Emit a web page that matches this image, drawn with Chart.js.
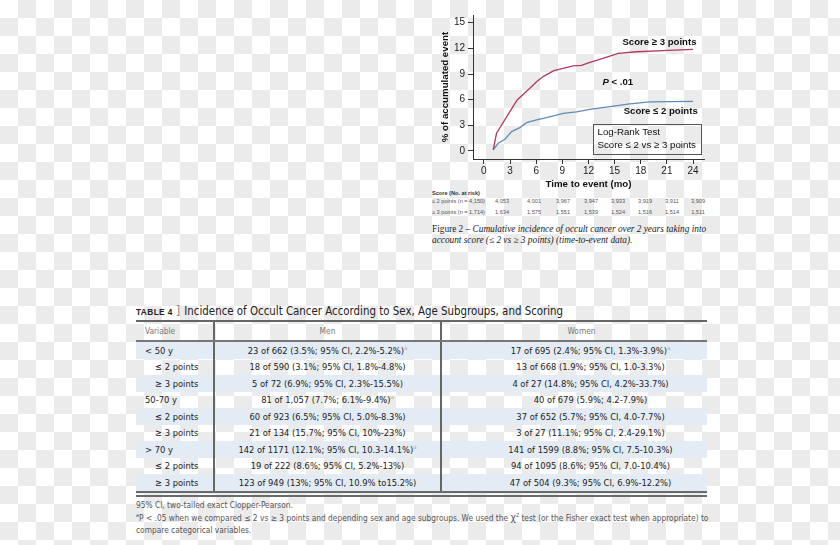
<!DOCTYPE html>
<html>
<head>
<meta charset="utf-8">
<script src="https://cdn.jsdelivr.net/npm/chart.js@4.4.0/dist/chart.umd.min.js"></script>
<style>
html, body { margin: 0; padding: 0; }
body {
  width: 840px; height: 545px; overflow: hidden; position: relative;
  background-color: #fff;
  background-image: conic-gradient(#ebebeb 25%, transparent 0 50%, #ebebeb 0 75%, transparent 0);
  background-size: 36px 36px;
  font-family: 'Liberation Sans', Arial, sans-serif;
}
#chartBox { position: absolute; left: 420px; top: 0; width: 300px; height: 190px; }
.risk { position: absolute; font-size: 5.6px; color: #555; white-space: nowrap; line-height: 7px; }
.risk.head { font-weight: bold; color: #333; }
#caption { position: absolute; left: 432px; top: 224px; font-family: 'Liberation Serif', serif;
  font-size: 9.3px; line-height: 11.3px; color: #222; white-space: nowrap; }
#caption i { font-style: italic; }
#tTitle { position: absolute; left: 136px; top: 303px; white-space: nowrap; color: #222;
  font-family: 'DejaVu Sans Condensed', 'DejaVu Sans', sans-serif; font-size: 11.4px; line-height: 16px; }
#tTitle b { font-family: 'Liberation Sans', sans-serif; font-size: 8.3px; letter-spacing: 0.4px; }
#tTitle .br { color: #888; font-size: 13px; margin: 0 4px 0 3px; }
#tbl { position: absolute; left: 136px; top: 320px; width: 571px; border-collapse: collapse; table-layout: fixed;
  font-family: 'DejaVu Sans Condensed', 'DejaVu Sans', sans-serif; font-size: 9.3px; color: #222; }
#tbl th { height: 18px; padding: 0; font-weight: normal; color: #777; font-size: 8.3px;
  border-top: 2px solid #666; border-bottom: 2px solid #777; }
#tbl th:first-child { text-align: left; padding-left: 9px; }
#tbl th:last-child { padding-left: 14px; }
#tbl td { height: 16.5px; padding: 0; white-space: nowrap; }
#tbl td:first-child { padding-left: 9px; }
#tbl td.sub { padding-left: 19px; }
#tbl td.men { text-align: center; }
#tbl td.women { text-align: center; padding-left: 32px; }
#tbl th + th, #tbl td + td { border-left: 2px solid #666; }
#tbl tr.alt td { background: #e3ecf4; }
#tbl tr.last td { border-bottom: 6px double #6a6a6a; }
#tbl sup { color: #9ab; font-size: 6px; line-height: 0; }
#foot { position: absolute; left: 136px; top: 499px; font-family: 'DejaVu Sans Condensed', 'DejaVu Sans', sans-serif;
  font-size: 8.3px; line-height: 12.5px; color: #555; white-space: nowrap; }
#foot sup { font-size: 5.5px; line-height: 0; }
#foot .chi { font-size: 10.5px; line-height: 0; }
</style>
</head>
<body>
<div id="chartBox"><canvas id="kmChart"></canvas></div>
<div id="risk"></div>
<div id="caption">Figure 2 – <i>Cumulative incidence of occult cancer over 2 years taking into<br>account score (≤ 2 vs ≥ 3 points) (time-to-event data).</i></div>
<div id="tTitle"><b>TABLE 4</b><span class="br">]</span>Incidence of Occult Cancer According to Sex, Age Subgroups, and Scoring</div>
<table id="tbl">
  <colgroup><col style="width:78px"><col style="width:227px"><col style="width:266px"></colgroup>
  <thead><tr><th>Variable</th><th>Men</th><th>Women</th></tr></thead>
  <tbody id="tableBody"></tbody>
</table>
<div id="foot">95% CI, two-tailed exact Clopper-Pearson.<br><sup>a</sup>P &lt; .05 when we compared ≤ 2 vs ≥ 3 points and depending sex and age subgroups. We used the <span class="chi">χ</span><sup>2</sup> test (or the Fisher exact test when appropriate) to<br>compare categorical variables.</div>

<script>
"use strict";

// cumulative incidence
const highX = [1.07, 1.45, 2.03, 2.98, 3.82, 5.27, 6.04, 6.8, 8.03, 9.1, 10.24, 11.2, 12.16, 13.3, 14.45, 15.4, 17.5, 20.56, 24];
const highY = [0.12, 2.07, 3.04, 4.6, 5.96, 7.33, 8.1, 8.7, 9.39, 9.67, 9.94, 10.02, 10.37, 10.72, 11.1, 11.42, 11.6, 11.73, 11.89];
const lowX = [1.07, 1.64, 2.41, 3.18, 4.13, 4.9, 6.04, 7.19, 9.1, 10.63, 12.16, 14.45, 16.74, 19.04, 24];
const lowY = [0.12, 0.9, 1.37, 2.26, 2.73, 3.31, 3.63, 3.9, 4.4, 4.56, 4.87, 5.18, 5.5, 5.73, 5.81];

const xTicks = [0, 3, 6, 9, 12, 15, 18, 21, 24];
const yTicks = [0, 3, 6, 9, 12, 15];

const riskRows = ['≤ 2 points (n = 4,150)', '≥ 3 points (n = 1,714)'];
const riskLow = ['4,053', '4,001', '3,967', '3,947', '3,933', '3,919', '3,911', '3,909'];
const riskHigh = ['1,634', '1,575', '1,551', '1,539', '1,524', '1,516', '1,514', '1,511'];

const variables = ['< 50 y', '≤ 2 points', '≥ 3 points', '50-70 y', '≤ 2 points', '≥ 3 points', '> 70 y', '≤ 2 points', '≥ 3 points'];
const menText = [
  '23 of 662 (3.5%; 95% CI, 2.2%-5.2%)', '18 of 590 (3.1%; 95% CI, 1.8%-4.8%)', '5 of 72 (6.9%; 95% CI, 2.3%-15.5%)',
  '81 of 1,057 (7.7%; 6.1%-9.4%)', '60 of 923 (6.5%; 95% CI, 5.0%-8.3%)', '21 of 134 (15.7%; 95% CI, 10%-23%)',
  '142 of 1171 (12.1%; 95% CI, 10.3-14.1%)', '19 of 222 (8.6%; 95% CI, 5.2%-13%)', '123 of 949 (13%; 95% CI, 10.9% to15.2%)'
];
const womenText = [
  '17 of 695 (2.4%; 95% CI, 1.3%-3.9%)', '13 of 668 (1.9%; 95% CI, 1.0-3.3%)', '4 of 27 (14.8%; 95% CI, 4.2%-33.7%)',
  '40 of 679 (5.9%; 4.2-7.9%)', '37 of 652 (5.7%; 95% CI, 4.0-7.7%)', '3 of 27 (11.1%; 95% CI, 2.4-29.1%)',
  '141 of 1599 (8.8%; 95% CI, 7.5-10.3%)', '94 of 1095 (8.6%; 95% CI, 7.0-10.4%)', '47 of 504 (9.3%; 95% CI, 6.9%-12.2%)'
];
const menSig = [true, false, false, true, false, false, true, false, false];
const womenSig = [true, false, false, false, false, false, false, false, false];

// risk table under the plot
const riskCols = [502, 534, 563, 591, 618, 645, 672, 698];
const riskBox = document.getElementById('risk');
const addRisk = (html, cls, left, top) => {
  const el = document.createElement('div');
  el.className = cls;
  el.style.left = left + 'px';
  el.style.top = top + 'px';
  el.innerHTML = html;
  riskBox.append(el);
  return el;
};
addRisk('Score (No. at risk)', 'risk head', 432, 189.5);
[riskLow, riskHigh].forEach((vals, r) => {
  const top = 197.8 + r * 11.4;
  addRisk(riskRows[r], 'risk', 432, top);
  vals.forEach((v, i) => {
    const el = addRisk(v, 'risk', riskCols[i], top);
    el.style.transform = 'translateX(-50%)';
  });
});

// table rows
const tableBody = document.getElementById('tableBody');
variables.forEach((v, i) => {
  const tr = document.createElement('tr');
  if (i % 2 === 0) tr.className = 'alt';
  if (i === variables.length - 1) tr.className += ' last';
  const td1 = document.createElement('td');
  td1.innerText = v;
  if (v.indexOf('points') >= 0) td1.className = 'sub';
  const td2 = document.createElement('td');
  td2.className = 'men';
  td2.innerHTML = menText[i] + (menSig[i] ? '<sup>a</sup>' : '');
  const td3 = document.createElement('td');
  td3.className = 'women';
  td3.innerHTML = womenText[i] + (womenSig[i] ? '<sup>a</sup>' : '');
  tr.append(td1, td2, td3);
  tableBody.append(tr);
});

// text placed in data units
const notes = [
  { text: 'Score ≥ 3 points', x: 24.4, y: 12.67, align: 'right', font: 'bold 9.6px "Liberation Sans"' },
  { text: 'Score ≤ 2 points', x: 24.54, y: 4.6, align: 'right', font: 'bold 9.6px "Liberation Sans"' },
  { text: 'Log-Rank Test', x: 13.04, y: 2.14, align: 'left', font: '9.7px "Liberation Sans"' },
  { text: 'Score ≤ 2 vs ≥ 3 points', x: 13.04, y: 0.62, align: 'left', font: '9.7px "Liberation Sans"' }
];
const noteBox = { x0: 12.53, y0: 3.16, x1: 24.96, y1: -0.35 };
const pNote = { x: 13.61, y: 8.0 };

const notesPlugin = {
  id: 'notes',
  afterDatasetsDraw(chart) {
    const { ctx, scales: { x, y } } = chart;
    ctx.save();
    ctx.fillStyle = '#111';
    ctx.textBaseline = 'middle';
    notes.forEach(n => {
      ctx.font = n.font;
      ctx.textAlign = n.align;
      ctx.fillText(n.text, x.getPixelForValue(n.x), y.getPixelForValue(n.y));
    });
    // P < .01 with italic P
    const px = x.getPixelForValue(pNote.x);
    const py = y.getPixelForValue(pNote.y);
    ctx.textAlign = 'left';
    ctx.font = 'italic bold 9.6px "Liberation Sans"';
    ctx.fillText('P', px, py);
    const w = ctx.measureText('P').width;
    ctx.font = 'bold 9.6px "Liberation Sans"';
    ctx.fillText(' < .01', px + w, py);
    // log-rank box
    const bx0 = Math.round(x.getPixelForValue(noteBox.x0)) + 0.5;
    const by0 = Math.round(y.getPixelForValue(noteBox.y0)) + 0.5;
    const bx1 = Math.round(x.getPixelForValue(noteBox.x1)) + 0.5;
    const by1 = Math.round(y.getPixelForValue(noteBox.y1)) + 0.5;
    ctx.strokeStyle = '#555';
    ctx.lineWidth = 1;
    ctx.strokeRect(bx0, by0, bx1 - bx0, by1 - by0);
    ctx.restore();
  }
};

const toPoints = (xs, ys) => xs.map((v, i) => ({ x: v, y: ys[i] }));

const ctx = document.getElementById('kmChart').getContext('2d');
const kmChart = new Chart(ctx, {
  type: 'line',
  data: {
    datasets: [
      { label: 'Score ≥ 3 points', data: toPoints(highX, highY), borderColor: '#b23a5c', borderWidth: 1.3, pointRadius: 0, tension: 0 },
      { label: 'Score ≤ 2 points', data: toPoints(lowX, lowY), borderColor: '#5e8db5', borderWidth: 1.3, pointRadius: 0, tension: 0 }
    ]
  },
  options: {
    responsive: true,
    maintainAspectRatio: false,
    animation: false,
    layout: { padding: { left: 20, right: 16, top: 15, bottom: 0 } },
    plugins: { legend: { display: false }, tooltip: { enabled: false } },
    scales: {
      x: {
        type: 'linear',
        min: -1.25,
        max: 25.26,
        afterBuildTicks: s => { s.ticks = xTicks.map(v => ({ value: v })); },
        afterFit: s => { s.height = 31; },
        border: { display: true, color: '#333', width: 1 },
        grid: { display: true, drawOnChartArea: false, drawTicks: true, tickLength: 5, color: '#333' },
        ticks: { color: '#222', font: { family: 'Liberation Sans', size: 10 }, padding: 1, maxRotation: 0, autoSkip: false },
        title: { display: true, text: 'Time to event (mo)', color: '#111', padding: 0,
          font: { family: 'Liberation Sans', size: 9.7, weight: 'bold' } }
      },
      y: {
        type: 'linear',
        min: -0.94,
        max: 15.9,
        afterBuildTicks: s => { s.ticks = yTicks.map(v => ({ value: v })); },
        afterFit: s => { s.width = 33; },
        border: { display: true, color: '#333', width: 1 },
        grid: { display: true, drawOnChartArea: false, drawTicks: true, tickLength: 5, color: '#333' },
        ticks: { color: '#222', font: { family: 'Liberation Sans', size: 10 }, padding: 3 },
        title: { display: true, text: '% of accumulated event', color: '#111', padding: 0,
          font: { family: 'Liberation Sans', size: 9.7, weight: 'bold' } }
      }
    }
  },
  plugins: [notesPlugin]
});
</script>
</body>
</html>
